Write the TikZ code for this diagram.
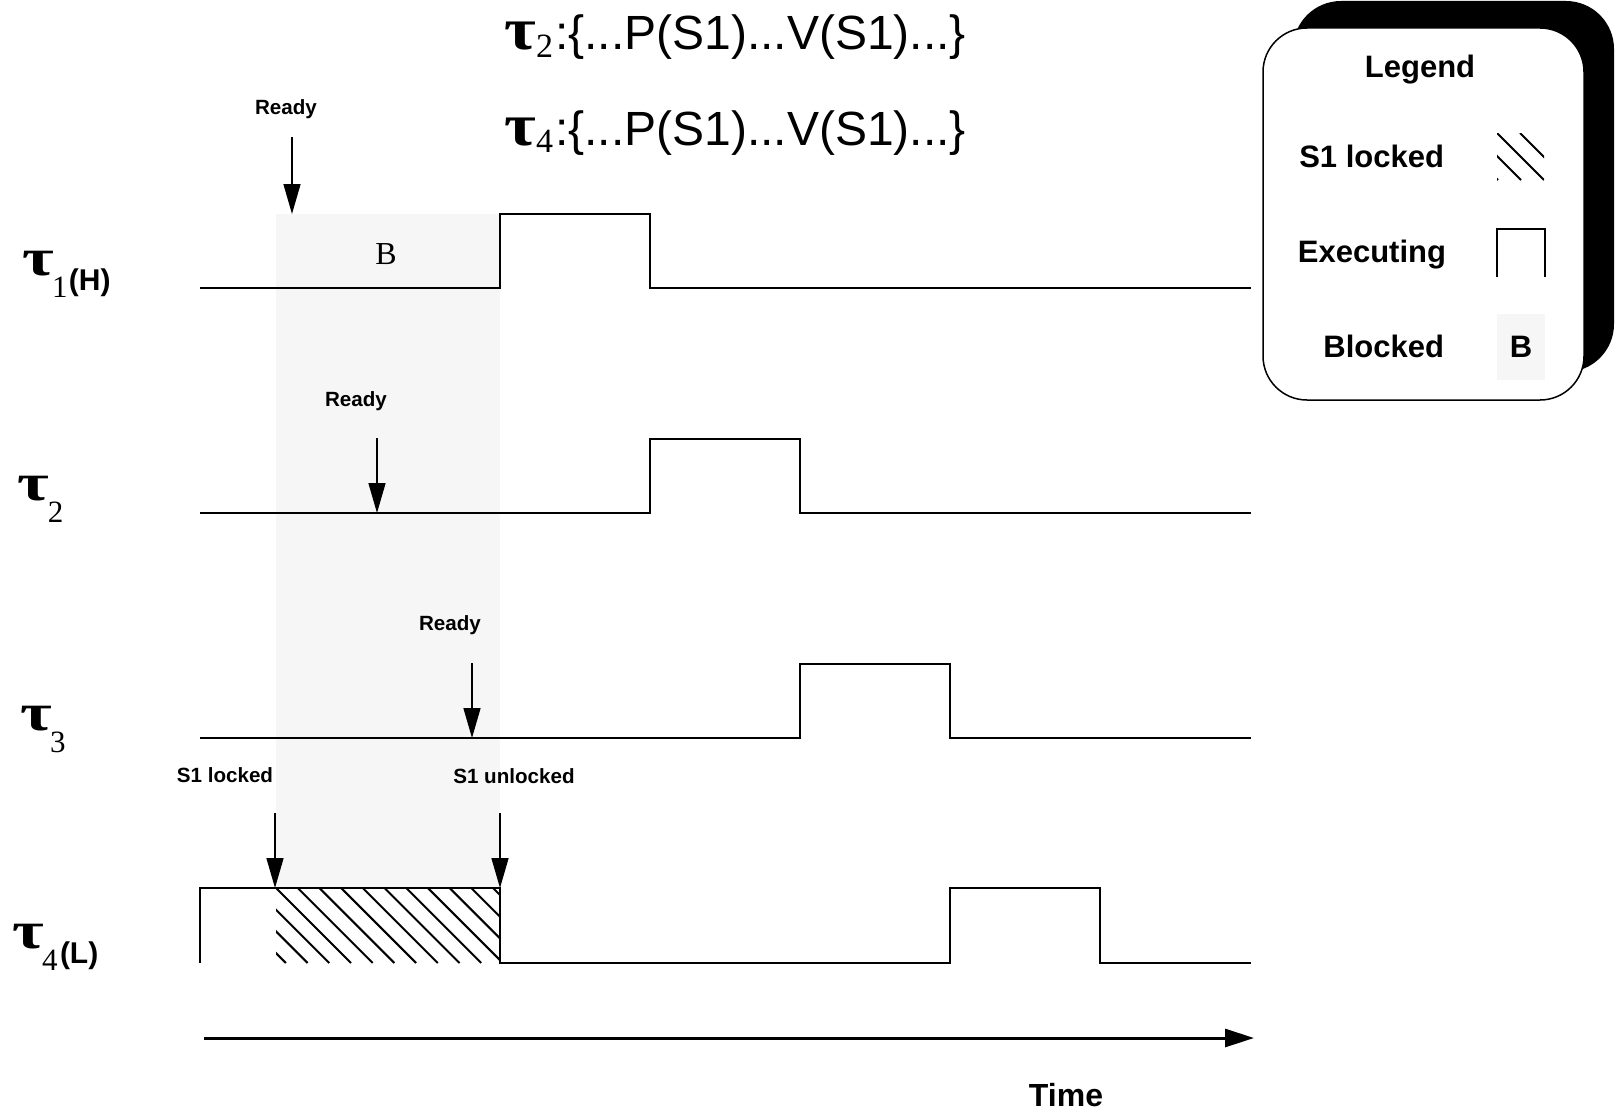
\documentclass[tikz,border=0pt]{standalone}
\usepackage{fontspec}
\usepackage{graphicx}
\usetikzlibrary{arrows.meta}
\newfontfamily\arial{Liberation Sans}
\newfontfamily\tms{Liberation Serif}
\definecolor{blk}{RGB}{246,246,246}
\newcommand\fsz[1]{\fontsize{#1}{#1}\selectfont}
\newcommand\taug[2]{\scalebox{#2}[1]{\tms\bfseries\fsz{#1}τ}}
% task label: tau, subscript digit, optional priority mark
\newcommand\tasklbl[3]{\rlap{\taug{26.5}{1.3}}\kern15pt\rlap{\raisebox{-11pt}{\tms\fsz{15.5}#1}}\kern#2\raisebox{-7.5pt}{\arial\bfseries\fsz{15}#3}}
\newcommand\headlbl[2]{\rlap{\taug{30}{1.15}}\kern16pt\rlap{\raisebox{#2}{\tms\fsz{17}#1}}\kern9.5pt{\arial\fsz{24}:\{...P(S1)...V(S1)...\}}}
\begin{document}
\begin{tikzpicture}[x=0.5pt,y=-0.5pt,
  sig/.style={line width=1pt, line join=miter},
  rdy/.style={line width=0.75pt, -{Triangle[length=15pt,width=8.5pt]}},
  txt/.style={inner sep=0pt, outer sep=0pt},
  lbl/.style={txt, anchor=base, font=\arial\bfseries\fsz{10.3}},
  leg/.style={txt, anchor=base east, font=\arial\bfseries\fsz{15.5}},
  hatch/.style={line width=1pt}]
\useasboundingbox (0,0) rectangle (1621,1113);

% blocked region
\fill[blk] (276,214) rectangle (500,888);
\node[txt, anchor=base, font=\tms\fsz{16}] (B) at (386,264) {B};

% S1 locked hatching
\begin{scope}
  \clip (276,888) rectangle (500,963);
  \foreach \k in {-4,...,10}
    \draw[hatch] ({276+21.7*\k},888) -- ({276+21.7*\k+75},963);
\end{scope}

% signals
\draw[sig] (200,288) -- (500,288) -- (500,214) -- (650,214) -- (650,288) -- (1251,288);
\draw[sig] (200,513) -- (650,513) -- (650,439) -- (800,439) -- (800,513) -- (1251,513);
\draw[sig] (200,738) -- (800,738) -- (800,664) -- (950,664) -- (950,738) -- (1251,738);
\draw[sig] (200,963) -- (200,888) -- (500,888) -- (500,963) -- (950,963) -- (950,888) -- (1100,888) -- (1100,963) -- (1251,963);

% task labels
\node[txt, anchor=base west] (tau1) at (22,275) {\tasklbl{1}{8.5pt}{(H)}};
\node[txt, anchor=base west] (tau2) at (18,500) {\tasklbl{2}{0pt}{}};
\node[txt, anchor=base west] (tau3) at (20,730) {\tasklbl{3}{0pt}{}};
\node[txt, anchor=base west] (tau4) at (12,948) {\tasklbl{4}{9pt}{(L)}};

% top text
\node[txt, anchor=base west] (h1) at (504,50) {\headlbl{2}{-4pt}};
\node[txt, anchor=base west] (h2) at (504,146) {\headlbl{4}{-3pt}};

% event labels and arrows
\node[lbl] (rd1) at (286,115) {Ready};
\coordinate (rd1a) at (292,137); \coordinate (rd1b) at (292,214);
\draw[rdy] (rd1a) -- (rd1b);
\node[lbl] (rd2) at (356,406) {Ready};
\coordinate (rd2a) at (377,438); \coordinate (rd2b) at (377,513);
\draw[rdy] (rd2a) -- (rd2b);
\node[lbl] (rd3) at (450,630) {Ready};
\coordinate (rd3a) at (472,663); \coordinate (rd3b) at (472,738);
\draw[rdy] (rd3a) -- (rd3b);
\node[lbl] (lk) at (225,782) {S1 locked};
\coordinate (lka) at (275,813); \coordinate (lkb) at (275,888);
\draw[rdy] (lka) -- (lkb);
\node[lbl] (ulk) at (514,783) {S1 unlocked};
\coordinate (ulka) at (500,813); \coordinate (ulkb) at (500,888);
\draw[rdy] (ulka) -- (ulkb);

% time axis
\coordinate (ta) at (204,1038); \coordinate (tb) at (1254,1038);
\draw[line width=1.5pt, -{Triangle[length=14.5pt,width=9pt]}] (ta) -- (tb);
\node[txt, anchor=base, font=\arial\bfseries\fsz{16}] (time) at (1066,1106) {Time};

% legend
\fill[black, rounded corners=24pt] (1293,1) rectangle (1614,372);
\filldraw[fill=white, draw=black, line width=0.75pt, rounded corners=22pt] (1263,28) rectangle (1584,400);
\node[txt, anchor=base, font=\arial\bfseries\fsz{15.5}] (legt) at (1420,78) {Legend};
\node[leg] (leg1) at (1444,167) {S1 locked};
\node[leg] (leg2) at (1446,262) {Executing};
\node[leg] (leg3) at (1444,357) {Blocked};
\begin{scope}
  \clip (1497,133) rectangle (1544,180);
  \foreach \k in {-2,...,1}
    \draw[hatch] ({1497+23*\k},133) -- ({1497+23*\k+47},180);
\end{scope}
\draw[line width=0.75pt] (1497,277) -- (1497,229) -- (1545,229) -- (1545,277);
\fill[blk] (1497,314) rectangle (1545,380);
\node[txt, anchor=base, font=\arial\bfseries\fsz{15.5}] (legB) at (1521,357) {B};
\end{tikzpicture}
\end{document}
